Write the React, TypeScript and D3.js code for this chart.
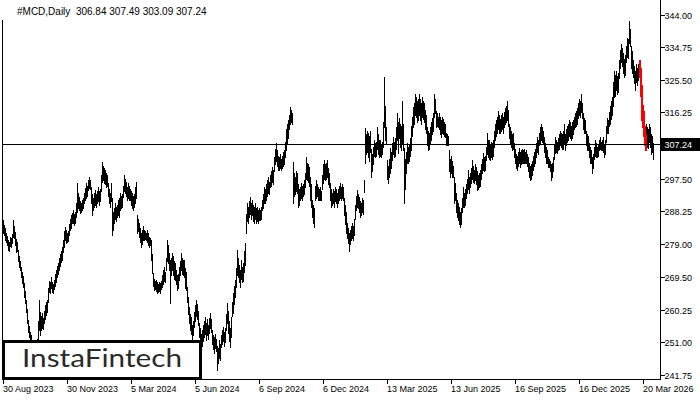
import React from "react";
import * as d3 from "d3";

const highs = [
285.6,284.2,283.5,282.0,281.2,280.0,279.5,280.9,280.5,281.8,
285.7,284.0,282.3,280.2,279.5,277.2,275.5,274.0,272.4,271.0,
269.8,267.8,265.5,263.0,260.5,257.3,255.5,254.0,253.0,251.5,
250.5,249.5,249.0,250.5,252.0,257.0,263.0,259.5,258.5,259.3,
258.0,260.0,261.5,262.5,263.0,266.5,268.5,268.0,269.5,268.0,
267.5,268.8,270.5,271.5,272.8,273.5,275.0,276.2,277.0,278.0,
280.0,282.5,283.7,282.8,282.0,282.5,284.5,286.0,287.0,287.6,
288.5,287.5,288.0,290.5,296.1,293.5,292.2,291.0,290.5,291.5,
292.0,293.5,294.8,296.1,295.5,297.0,297.8,297.2,295.0,293.0,
292.0,293.5,294.2,293.0,294.0,295.0,294.0,294.5,298.5,302.1,
301.0,300.5,299.8,299.0,298.5,296.1,294.5,293.5,296.1,292.0,
288.0,289.0,290.5,289.5,290.0,291.5,292.0,293.3,292.5,293.0,
295.5,298.4,297.5,296.5,295.0,296.1,295.5,294.5,294.0,293.5,
292.5,293.0,295.0,296.5,287.1,286.0,284.8,283.5,282.0,283.0,
284.0,282.8,282.5,282.0,282.8,282.0,281.0,280.5,280.0,276.0,
270.7,269.0,268.5,268.7,268.0,267.5,268.2,267.8,268.5,270.0,
271.5,272.4,271.0,275.0,280.0,278.5,276.3,274.5,275.0,276.3,
275.5,274.0,273.5,271.5,270.0,270.5,272.5,274.0,276.3,275.0,
274.5,274.3,272.0,271.0,266.7,264.0,261.0,259.0,258.2,256.0,
257.0,259.5,261.5,263.0,262.0,260.0,256.5,255.0,253.5,254.5,
256.0,257.0,258.2,256.5,257.5,256.0,258.0,259.3,257.5,254.5,
253.0,252.5,253.5,252.0,250.0,249.5,251.7,250.5,253.0,254.5,
255.4,254.0,255.0,259.0,262.2,260.0,257.0,255.0,258.2,262.5,
265.0,267.0,268.7,272.0,277.2,275.0,273.0,271.5,274.3,272.5,
273.5,277.0,279.1,287.5,290.5,289.5,291.0,292.2,290.5,291.5,
290.0,289.5,290.5,289.0,289.5,288.5,289.0,288.5,289.4,291.5,
293.0,295.0,294.5,296.0,297.0,297.8,296.5,298.5,299.5,300.7,
300.0,303.5,306.0,307.5,305.5,304.0,303.5,304.5,303.0,304.0,
305.0,305.5,308.0,311.5,313.0,314.0,315.5,317.7,317.0,316.0,
302.1,299.0,298.0,299.5,299.0,296.0,294.5,295.0,296.1,295.5,
296.0,297.0,299.0,303.5,302.0,301.5,300.7,298.0,296.0,291.3,
290.0,289.0,295.5,297.0,296.0,295.0,294.5,295.0,294.0,298.5,
301.5,302.7,301.5,302.0,302.7,300.5,299.0,296.1,294.5,293.5,
294.5,294.0,295.0,294.5,293.5,294.5,295.5,296.1,295.0,296.0,
295.0,292.0,290.0,288.0,284.8,283.5,282.0,283.0,284.0,284.8,
284.0,286.0,290.0,292.5,294.2,293.0,292.2,291.0,290.5,292.0,
291.5,297.0,311.7,310.0,311.0,310.5,309.5,311.1,306.0,304.5,
306.5,308.3,307.5,308.0,312.0,310.0,308.5,308.3,307.0,308.0,
313.5,326.2,318.0,312.0,302.7,301.0,303.0,306.3,305.0,307.5,
309.2,308.0,309.0,312.0,316.0,313.5,314.8,313.0,312.5,319.6,
313.0,306.3,303.0,305.0,307.5,306.5,307.0,309.0,312.5,315.0,
317.7,319.0,321.6,320.5,319.5,320.0,321.6,320.0,319.0,320.5,
319.5,318.8,317.0,315.5,312.0,311.0,310.5,312.0,313.5,314.8,
316.0,321.6,320.0,316.8,316.0,315.0,316.0,315.0,314.0,315.0,
314.5,313.5,313.0,310.3,310.0,309.5,305.5,303.0,304.0,302.5,
301.0,298.0,296.1,293.3,291.5,290.5,289.3,288.0,289.0,292.0,
295.0,293.5,294.5,296.0,297.5,299.8,298.0,299.0,300.5,302.7,
301.0,300.0,301.5,300.7,299.5,298.5,299.0,300.0,301.5,303.0,
304.6,303.5,304.0,306.5,310.3,308.5,308.3,307.0,308.0,307.5,
308.3,311.0,313.0,314.0,315.0,316.8,315.5,314.5,315.5,316.0,
315.0,316.5,317.5,318.0,319.6,317.0,313.1,312.0,311.0,310.0,
310.5,307.5,306.0,304.5,304.0,305.0,306.3,305.0,305.5,306.0,
305.5,306.0,305.0,305.5,304.5,303.5,302.0,301.0,301.5,302.5,
304.0,305.0,306.0,307.5,309.2,308.5,310.5,312.0,313.1,312.0,
311.0,309.2,307.5,306.5,305.5,303.5,303.0,302.5,301.5,301.8,
303.5,307.0,309.2,308.5,308.0,309.0,310.0,311.1,310.5,310.0,
311.0,313.1,310.0,311.5,312.5,313.0,314.0,313.5,312.5,313.5,
314.0,315.0,316.0,316.8,317.5,319.0,320.0,319.5,321.6,319.0,
316.0,314.8,314.0,311.1,310.0,309.5,307.5,306.5,305.5,303.5,
304.5,306.5,308.3,307.5,306.5,307.0,308.5,309.2,308.0,308.5,
309.2,307.0,308.5,312.5,314.8,314.0,316.5,318.0,319.6,320.5,
325.0,328.1,327.0,328.1,326.5,327.5,331.0,334.0,335.8,334.5,
333.0,331.5,332.5,335.0,337.5,337.0,342.3,340.0,335.0,333.8,
331.0,329.5,328.0,330.1,329.0,330.0,331.0,329.0,324.0,318.5,
316.8,312.5,310.0,313.0,312.0,311.5,313.1,312.0,310.0,309.5,
307.49
];

const lows = [
282.0,281.5,280.1,279.4,278.6,277.2,277.0,278.2,278.0,279.2,
281.0,280.6,278.5,276.6,276.9,274.0,272.3,271.5,269.5,267.8,
266.7,264.0,262.2,259.5,256.5,254.0,252.5,251.7,249.5,248.0,
247.0,246.0,245.7,246.5,248.5,250.5,254.5,253.0,254.5,255.0,
254.8,256.5,257.5,258.8,259.5,262.5,265.3,265.0,266.5,265.3,
265.0,266.0,267.0,268.0,269.5,270.5,271.5,272.8,273.8,274.5,
276.5,278.0,280.0,279.1,279.5,279.8,281.5,282.8,283.5,284.8,
285.0,284.3,285.0,286.5,288.0,289.0,288.5,287.7,288.0,288.5,
289.0,290.5,291.3,292.0,292.5,294.2,294.8,294.5,290.5,287.1,
288.5,289.5,290.0,289.3,290.5,291.0,289.9,291.0,294.0,296.5,
297.0,296.1,296.0,295.0,295.5,292.5,290.5,289.3,291.0,281.4,
283.0,284.9,286.0,285.5,286.5,287.0,286.5,288.5,289.0,289.5,
292.2,294.0,293.5,292.5,291.3,292.0,291.5,291.5,290.0,289.0,
288.5,289.5,290.5,292.0,282.0,282.5,281.0,279.5,278.0,279.0,
280.0,280.0,280.2,280.0,279.5,278.5,278.0,278.5,274.5,270.7,
267.0,265.8,266.0,265.5,265.0,265.2,265.5,265.0,266.0,266.7,
267.5,268.5,268.0,271.5,274.0,273.5,271.5,262.2,270.0,271.5,
270.0,269.0,268.7,267.5,265.8,266.5,268.7,270.0,271.5,270.5,
270.0,269.5,266.5,265.8,262.5,259.0,256.5,254.5,253.5,251.7,
253.0,255.4,257.0,258.5,257.5,256.0,252.5,250.5,248.8,250.0,
251.5,252.5,253.5,251.7,253.0,252.0,253.7,255.0,254.0,250.5,
249.0,248.0,249.5,248.5,243.2,245.0,246.5,246.0,249.7,250.5,
251.5,250.0,251.0,254.5,256.5,253.7,251.5,249.7,252.5,258.5,
259.3,262.0,264.0,266.7,270.0,269.5,268.0,266.7,269.0,268.0,
268.5,271.0,273.0,282.0,285.5,285.0,286.5,287.5,286.0,287.0,
285.5,285.0,286.0,284.8,285.5,285.0,285.7,285.7,286.0,288.5,
289.0,290.5,290.5,291.5,292.5,293.5,293.0,295.0,295.5,296.5,
296.0,299.5,301.5,302.5,301.0,300.0,299.8,300.5,299.8,300.5,
301.0,301.5,303.5,305.5,307.5,309.0,311.5,313.1,313.5,313.1,
290.5,292.5,293.0,294.0,293.5,289.3,290.0,291.3,292.0,291.5,
292.5,293.0,295.0,297.5,297.0,296.5,295.5,291.5,289.3,286.5,
285.0,283.7,291.3,292.0,292.5,291.5,291.3,291.5,291.3,294.5,
296.1,297.5,297.0,297.5,298.0,296.0,295.0,291.5,289.3,290.0,
290.5,289.3,291.0,290.5,289.5,290.5,291.3,292.0,291.5,292.0,
291.5,287.0,284.5,282.0,280.5,279.1,277.0,279.0,280.0,280.5,
280.0,281.5,286.0,288.5,289.5,289.0,288.0,286.5,287.0,288.0,
287.5,293.6,302.0,304.5,305.0,303.5,302.5,305.0,297.8,299.5,
301.5,304.0,303.5,304.0,306.0,304.5,303.5,304.0,303.5,304.5,
306.5,312.0,308.5,307.5,297.5,296.1,298.0,299.0,300.5,302.7,
304.5,303.5,304.0,306.0,308.5,304.6,309.0,306.5,305.5,307.5,
305.5,290.5,294.5,299.0,302.0,301.8,302.5,304.0,305.5,309.5,
312.0,313.0,315.5,315.0,313.5,314.0,315.5,314.0,313.1,315.0,
314.5,313.5,311.5,310.3,307.0,305.5,306.0,307.5,308.3,310.0,
311.0,315.0,316.0,312.0,312.5,312.0,311.5,310.0,309.2,310.5,
310.0,309.5,309.2,307.0,306.9,307.0,299.5,297.8,299.0,298.0,
297.8,290.5,291.5,288.0,286.5,285.7,284.5,283.7,284.5,288.0,
289.3,289.5,290.0,292.0,293.3,294.5,293.5,295.0,296.1,297.5,
296.5,296.1,297.0,296.0,294.2,294.5,295.0,295.5,297.5,299.0,
300.0,299.5,300.0,302.7,304.5,303.5,303.0,302.7,303.5,303.0,
304.0,306.5,308.3,309.5,310.3,311.5,310.5,310.3,311.0,311.5,
310.5,312.0,313.0,313.5,314.0,312.5,309.0,307.5,306.5,305.5,
306.0,303.5,302.0,300.5,299.8,301.0,302.0,300.7,301.5,302.0,
301.8,302.0,302.0,301.8,301.0,299.5,298.0,297.0,297.5,298.5,
300.0,301.0,302.0,303.5,305.0,304.5,307.0,307.5,308.5,308.0,
307.5,305.0,303.5,301.8,302.0,300.7,300.7,299.5,297.0,298.0,
299.5,303.0,304.6,305.0,304.6,305.5,306.0,307.0,306.5,306.0,
306.0,307.5,305.5,307.0,308.0,308.3,309.5,309.0,308.3,309.0,
310.0,311.5,312.0,312.5,313.0,314.8,315.5,315.0,316.5,314.8,
311.5,310.3,310.5,307.0,305.5,305.5,303.5,302.0,301.8,299.0,
300.5,303.0,304.0,303.5,303.5,304.0,305.5,306.0,305.5,305.5,
305.0,303.5,304.5,308.0,310.3,310.5,312.5,313.1,314.5,315.5,
318.0,320.5,321.0,322.5,321.6,322.0,326.0,329.0,330.5,329.5,
327.5,326.2,327.0,330.5,332.0,331.8,336.0,335.0,329.0,327.5,
326.2,324.5,322.5,325.0,324.0,325.5,326.2,321.0,314.0,312.0,
309.5,307.0,305.5,307.5,306.5,306.3,308.0,306.5,304.5,305.0,
303.09
];

// bars highlighted in red (first, last index)
const redBars = [636, 642];

const dateLabels = ["30 Aug 2023", "30 Nov 2023", "5 Mar 2024", "5 Jun 2024", "6 Sep 2024", "6 Dec 2024", "13 Mar 2025", "13 Jun 2025", "16 Sep 2025", "16 Dec 2025", "20 Mar 2026"];
const dateIndex = [0, 64, 128, 192, 256, 320, 384, 448, 512, 576, 640];

const priceTicks = [344, 334.75, 325.5, 316.25, 297.5, 288.25, 279, 269.5, 260.25, 251, 241.75];
const priceTickLabels = ["344.00", "334.75", "325.50", "316.25", "297.50", "288.25", "279.00", "269.50", "260.25", "251.00", "241.75"];

// last bar: open, high, low, close
const quote = [306.84, 307.49, 303.09, 307.24];
const symbolTitle = "#MCD,Daily";

const FONT = "'Liberation Sans', Arial, sans-serif";

export default function App() {
  const n = highs.length;
  const x = d3.scaleLinear().domain([0, n - 1]).range([3, 653]);
  const y = d3.scaleLinear().domain([241.75, 344]).range([374.9, 14.7]);

  const plotLeft = 2.5;
  const axisX = 660.5;
  const plotBottom = 379.5;

  const isRed = (i: number) => i >= redBars[0] && i <= redBars[1];

  const bars = highs.map((h, i) => {
    if (isRed(i)) return null;
    const top = Math.round(y(h));
    const bot = Math.round(y(lows[i]));
    return (
      <rect key={i} x={Math.round(x(i))} y={top} width={1} height={Math.max(1, bot - top + 1)} fill="#000" />
    );
  });

  const redMarks = highs.map((h, i) => {
    if (!isRed(i)) return null;
    const top = Math.round(y(h));
    const bot = Math.round(y(lows[i]));
    return (
      <rect key={"r" + i} x={Math.round(x(i))} y={top} width={2} height={Math.max(1, bot - top + 1)} fill="#ff0000" />
    );
  });

  const lastY = Math.round(y(quote[3])) + 0.5;

  return (
    <svg width={700} height={400} style={{ position: "absolute", left: 0, top: 0, background: "#fff" }} shapeRendering="crispEdges">
      <rect x={0} y={0} width={700} height={400} fill="#fff" />
      {bars}
      {redMarks}
      {/* current price line */}
      <line x1={plotLeft} x2={axisX} y1={lastY} y2={lastY} stroke="#000" strokeWidth={1} />
      {/* frame */}
      <line x1={plotLeft} x2={plotLeft} y1={20} y2={plotBottom} stroke="#000" />
      <line x1={axisX} x2={axisX} y1={0} y2={plotBottom} stroke="#000" />
      <line x1={plotLeft} x2={axisX} y1={plotBottom} y2={plotBottom} stroke="#000" />
      {/* price axis */}
      {priceTicks.map((p, k) => {
        const ty = Math.round(y(p)) + 0.5;
        return (
          <g key={"pt" + k}>
            <line x1={axisX} x2={axisX + 4} y1={ty} y2={ty} stroke="#000" />
            <text x={664.5} y={ty + 3.3} fontFamily={FONT} fontSize={9} fill="#000">{priceTickLabels[k]}</text>
          </g>
        );
      })}
      <rect x={661} y={lastY - 6.5} width={39} height={13} fill="#000" />
      <text x={664.5} y={lastY + 3.3} fontFamily={FONT} fontSize={9} fill="#fff">{quote[3].toFixed(2)}</text>
      {/* date axis */}
      {dateIndex.map((di, k) => {
        const tx = Math.round(x(di)) + 0.5;
        return (
          <g key={"dt" + k}>
            <line x1={tx} x2={tx} y1={plotBottom} y2={plotBottom + 4} stroke="#000" />
            <text x={tx - 0.5} y={391.5} fontFamily={FONT} fontSize={9} fill="#000">{dateLabels[k]}</text>
          </g>
        );
      })}
      {/* title */}
      <text x={17} y={14.5} fontFamily={FONT} fontSize={10} fill="#000" style={{ whiteSpace: "pre" }}>
        {symbolTitle + "  " + quote.map((q) => q.toFixed(2)).join(" ")}
      </text>
      {/* logo */}
      <rect x={3.5} y={341} width={197} height={37.5} fill="#fff" stroke="#000" strokeWidth={3} />
      <text x={22} y={367} fontFamily="Lato, 'Open Sans', sans-serif" fontSize={25} fill="#2a2a2a" textLength={160} lengthAdjust="spacingAndGlyphs">InstaFintech</text>
    </svg>
  );
}
